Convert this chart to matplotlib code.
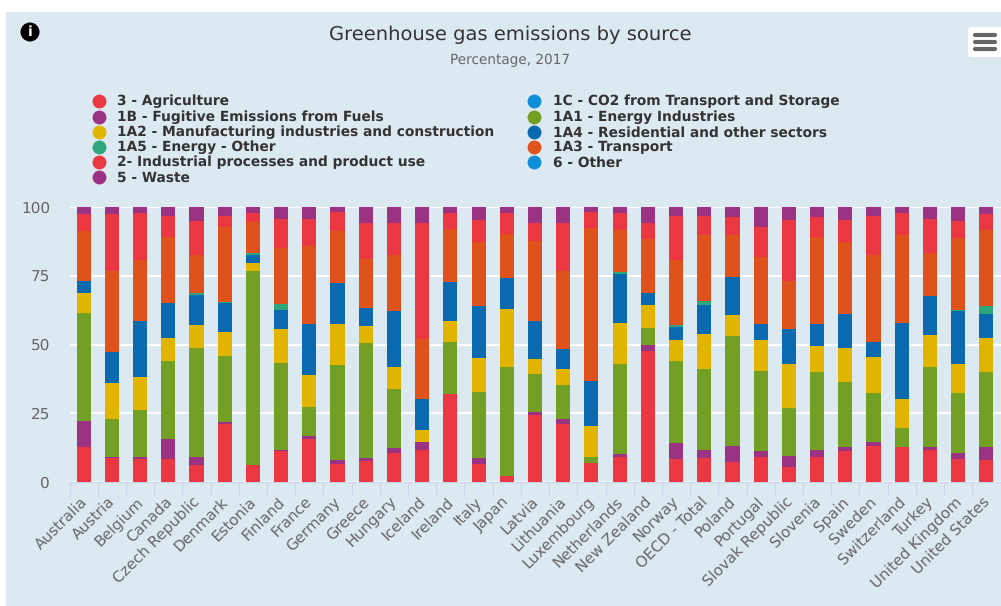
import matplotlib
matplotlib.use("Agg")
import matplotlib.pyplot as plt
import numpy as np
from matplotlib.lines import Line2D
from matplotlib.patches import Rectangle, FancyBboxPatch, Circle
from matplotlib.transforms import ScaledTranslation

countries = ["Australia","Austria","Belgium","Canada","Czech Republic","Denmark","Estonia","Finland","France","Germany","Greece","Hungary","Iceland","Ireland","Italy","Japan","Latvia","Lithuania","Luxembourg","Netherlands","New Zealand","Norway","OECD - Total","Poland","Portugal","Slovak Republic","Slovenia","Spain","Sweden","Switzerland","Turkey","United Kingdom","United States"]

agriculture = [12.7,8.7,8.4,8.4,6.2,21.1,6.2,11.3,15.6,6.5,7.6,10.5,11.6,32.0,6.5,2.2,24.4,21.1,6.9,9.1,47.6,8.4,8.7,7.3,9.1,5.5,9.1,11.3,13.1,12.7,11.6,8.4,8.0]
fugitive = [9.5,0.4,0.7,7.3,2.9,0.7,0,0.4,1.1,1.5,1.1,1.8,2.9,0,2.2,0,1.1,1.8,0,1.1,2.2,5.8,2.9,5.8,2.2,4.0,2.5,1.5,1.5,0,1.1,2.2,4.7]
co2_transport = [0]*33
energy_ind = [39.3,13.8,17.1,28.4,39.6,24.0,70.5,31.6,10.5,34.5,41.8,21.5,0,18.9,24.0,39.6,13.8,12.4,2.2,32.7,6.2,29.8,29.5,40.0,29.1,17.5,28.4,23.6,17.8,6.9,29.1,21.8,27.3]
manufacturing = [7.3,13.1,12.0,8.4,8.4,8.7,2.9,12.4,11.6,14.9,6.2,8.0,4.4,7.6,12.4,21.1,5.5,5.8,11.3,14.9,8.4,7.6,12.7,7.6,11.3,16.0,9.5,12.4,13.1,10.5,11.6,10.5,12.4]
residential = [4.4,11.3,20.4,12.7,10.9,10.5,2.9,6.9,18.5,14.9,6.5,20.4,11.3,14.2,18.9,11.3,13.8,7.3,16.4,17.8,4.4,4.7,10.5,13.8,5.8,12.7,8.0,12.4,5.5,27.6,14.2,19.3,8.7]
energy_other = [0,0,0,0,0.7,0.4,0.7,2.2,0,0,0,0,0,0,0,0,0,0,0,0.7,0,0.7,1.5,0,0,0,0,0,0,0,0,0.4,2.9]
transport = [18.2,29.5,22.2,24.0,13.8,27.3,11.3,20.4,28.7,18.9,17.8,20.4,21.8,19.3,23.3,16.0,29.1,28.4,55.6,15.3,19.6,23.6,24.0,15.3,24.4,17.5,31.6,26.2,31.6,32.0,15.6,26.2,27.6]
industrial = [6.2,20.7,17.1,7.6,12.4,4.0,3.3,10.5,9.5,6.9,13.1,11.6,42.2,5.8,8.0,7.6,6.5,17.5,5.8,6.2,5.8,16.0,6.9,6.5,10.9,22.2,7.3,8.0,14.2,8.0,12.4,6.2,5.8]
waste = [2.5,2.5,2.2,3.3,5.1,3.3,2.2,4.4,4.4,1.8,5.8,5.8,5.8,2.2,4.7,2.2,5.8,5.8,1.8,2.2,5.8,3.3,3.3,3.6,7.3,4.7,3.6,4.7,3.3,2.2,4.4,5.1,2.5]
other = [0]*33

RED, PURPLE, YELLOW, TEAL = "#EB3741", "#9B3282", "#E1B400", "#2EA67B"
SKY, GREEN, BLUE, ORANGE = "#0F8FD9", "#73A024", "#0A69AF", "#E0521C"

# bottom-to-top stacking order
stack = [(agriculture,RED),(fugitive,PURPLE),(co2_transport,SKY),(energy_ind,GREEN),(manufacturing,YELLOW),
         (residential,BLUE),(energy_other,TEAL),(transport,ORANGE),(industrial,RED),(waste,PURPLE),(other,SKY)]

legend_left = [("3 - Agriculture",RED),("1B - Fugitive Emissions from Fuels",PURPLE),
               ("1A2 - Manufacturing industries and construction",YELLOW),("1A5 - Energy - Other",TEAL),
               ("2- Industrial processes and product use",RED),("5 - Waste",PURPLE)]
legend_right = [("1C - CO2 from Transport and Storage",SKY),("1A1 - Energy Industries",GREEN),
                ("1A4 - Residential and other sectors",BLUE),("1A3 - Transport",ORANGE),("6 - Other",SKY)]

W, H = 1001, 606
BG = "#DDE9F1"
plt.rcParams["font.family"] = "DejaVu Sans"
plt.rcParams["text.hinting"] = "no_hinting"
fig = plt.figure(figsize=(W/100, H/100), dpi=100, facecolor="white")
fx = lambda x: x / W
fy = lambda y: 1 - y / H

fig.add_artist(Rectangle((fx(6), 0), 1 - fx(6), fy(12), transform=fig.transFigure, facecolor=BG, edgecolor="none", zorder=-5))

ax = fig.add_axes([fx(69.5), fy(482), fx(1000.5 - 69.5), (482 - 207) / H], facecolor="none")
x = np.arange(len(countries))
bottom = np.zeros(len(countries))
for vals, col in stack:
    v = np.array(vals, dtype=float)
    ax.bar(x, v, width=0.5, bottom=bottom, color=col, linewidth=0, zorder=3)
    bottom += v

ax.set_xlim(-0.5, len(countries) - 0.5)
ax.set_ylim(0, 100)
ax.set_yticks([0, 25, 50, 75, 100])
ax.yaxis.grid(True, color="white", linewidth=1.4, zorder=1)
ax.set_axisbelow(True)
ax.tick_params(axis="y", length=0, labelsize=11, labelcolor="#666666", pad=14)
for s in ["top", "left", "right"]:
    ax.spines[s].set_visible(False)
ax.spines["bottom"].set_color("#CCD6EB")
ax.spines["bottom"].set_linewidth(1)
ax.spines["bottom"].set_zorder(2)

ax.set_xticks(x)
ax.set_xticklabels(countries, rotation=45, ha="right", va="top", rotation_mode="anchor", fontsize=10.9, color="#666666")
ax.tick_params(axis="x", which="major", length=0, pad=9)
offset = ScaledTranslation(-4 / 100, 0, fig.dpi_scale_trans)
for lbl in ax.get_xticklabels():
    lbl.set_transform(lbl.get_transform() + offset)
ax.set_xticks(np.arange(len(countries) + 1) - 0.5, minor=True)
ax.tick_params(axis="x", which="minor", length=9.4, width=1, color="#CCD6EB")

fig.text(0.5095, fy(35), "Greenhouse gas emissions by source", ha="center", va="center", fontsize=14, color="#333333")
fig.text(0.5095, fy(60.5), "Percentage, 2017", ha="center", va="center", fontsize=9.8, color="#666666")

rows = [101, 116.5, 132, 147, 162, 177]
for col_items, mx, tx in [(legend_left, 99, 117), (legend_right, 534, 553)]:
    for (label, col), ry in zip(col_items, rows):
        fig.add_artist(Line2D([fx(mx)], [fy(ry)], marker="o", markersize=10, color=col, markeredgewidth=0, linestyle="none", transform=fig.transFigure))
        fig.text(fx(tx), fy(ry + 0.5), label, ha="left", va="center", fontsize=9.9, fontweight="bold", color="#333333")

# info icon
dpi_px = fig.dpi_scale_trans
fig.add_artist(Circle((30 / 100, (H - 32) / 100), 9.5 / 100, transform=dpi_px, facecolor="black", edgecolor="none"))
fig.text(fx(30), fy(32), "i", ha="center", va="center", fontsize=10, fontweight="bold", color="white")

# menu button
fig.add_artist(FancyBboxPatch((968 / 100, (H - 57) / 100), 36 / 100, 30 / 100, boxstyle="round,pad=0,rounding_size=0.03",
                              transform=dpi_px, facecolor="white", edgecolor="none"))
for by in [35, 42, 49]:
    fig.add_artist(Line2D([fx(975), fx(995)], [fy(by), fy(by)], color="#666666", linewidth=3, solid_capstyle="round", transform=fig.transFigure))

fig.savefig("out.png", dpi=100, facecolor="white")
